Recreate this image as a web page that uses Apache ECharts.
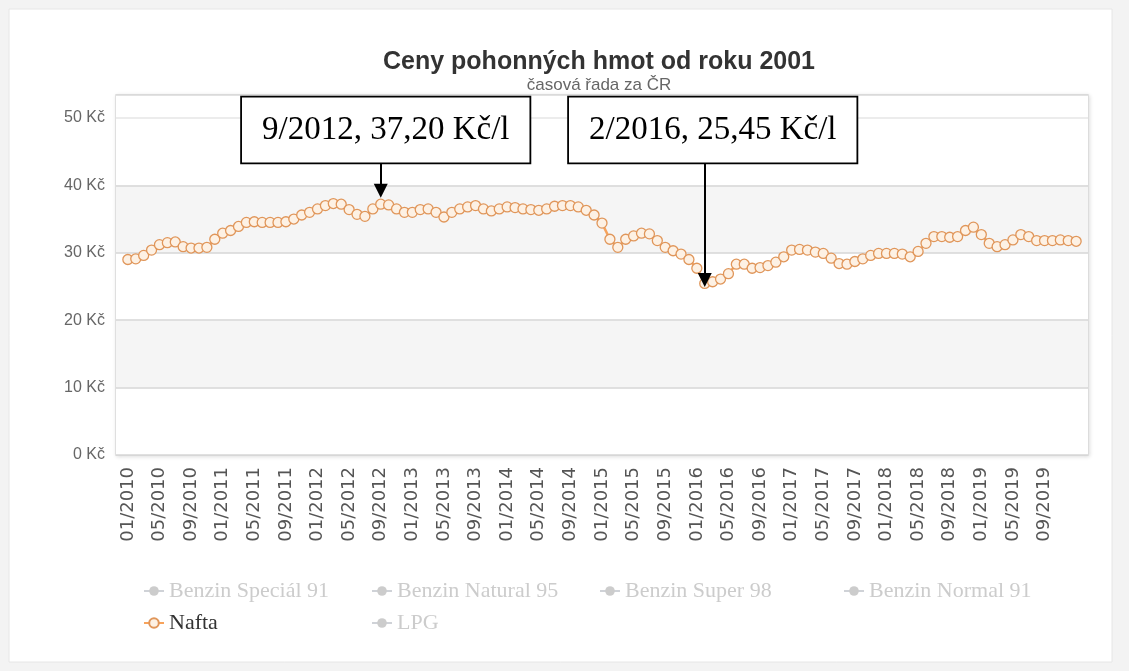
<!DOCTYPE html>
<html>
<head>
<meta charset="utf-8">
<script src="https://cdn.jsdelivr.net/npm/echarts@6/dist/echarts.min.js"></script>
<style>
html,body{margin:0;padding:0;background:#f3f3f3;}
#chart{width:1129px;height:671px;}
</style>
</head>
<body>
<div id="chart"></div>
<script>
// ---- data ----
const categories = [
'01/2010','02/2010','03/2010','04/2010','05/2010','06/2010','07/2010','08/2010','09/2010','10/2010','11/2010','12/2010',
'01/2011','02/2011','03/2011','04/2011','05/2011','06/2011','07/2011','08/2011','09/2011','10/2011','11/2011','12/2011',
'01/2012','02/2012','03/2012','04/2012','05/2012','06/2012','07/2012','08/2012','09/2012','10/2012','11/2012','12/2012',
'01/2013','02/2013','03/2013','04/2013','05/2013','06/2013','07/2013','08/2013','09/2013','10/2013','11/2013','12/2013',
'01/2014','02/2014','03/2014','04/2014','05/2014','06/2014','07/2014','08/2014','09/2014','10/2014','11/2014','12/2014',
'01/2015','02/2015','03/2015','04/2015','05/2015','06/2015','07/2015','08/2015','09/2015','10/2015','11/2015','12/2015',
'01/2016','02/2016','03/2016','04/2016','05/2016','06/2016','07/2016','08/2016','09/2016','10/2016','11/2016','12/2016',
'01/2017','02/2017','03/2017','04/2017','05/2017','06/2017','07/2017','08/2017','09/2017','10/2017','11/2017','12/2017',
'01/2018','02/2018','03/2018','04/2018','05/2018','06/2018','07/2018','08/2018','09/2018','10/2018','11/2018','12/2018',
'01/2019','02/2019','03/2019','04/2019','05/2019','06/2019','07/2019','08/2019','09/2019','10/2019','11/2019','12/2019',
'01/2020'
];

const naftaValues = [
29.0,29.1,29.6,30.4,31.2,31.5,31.6,30.9,30.7,30.7,30.8,32.0,
32.9,33.3,33.9,34.5,34.6,34.5,34.5,34.5,34.6,35.0,35.6,36.0,
36.5,37.0,37.3,37.2,36.4,35.7,35.4,36.5,37.2,37.1,36.5,36.0,
36.0,36.4,36.5,36.0,35.3,36.0,36.5,36.8,37.0,36.5,36.2,36.5,
36.8,36.7,36.5,36.4,36.3,36.5,36.9,37.0,37.0,36.8,36.3,35.6,
34.4,32.0,30.8,32.0,32.5,32.9,32.8,31.8,30.8,30.3,29.8,29.0,
27.7,25.45,25.7,26.1,26.9,28.3,28.3,27.7,27.8,28.1,28.6,29.4,
30.4,30.5,30.4,30.1,29.9,29.2,28.4,28.3,28.7,29.1,29.6,29.9,
29.9,29.9,29.8,29.4,30.2,31.4,32.4,32.4,32.3,32.4,33.3,33.8,
32.7,31.4,30.9,31.2,31.9,32.7,32.4,31.8,31.8,31.8,31.9,31.8,
31.7
];

const seriesNames = ['Benzin Speciál 91','Benzin Natural 95','Benzin Super 98','Benzin Normal 91','Nafta','LPG'];
const hiddenSeries = ['Benzin Speciál 91','Benzin Natural 95','Benzin Super 98','Benzin Normal 91','LPG'];

const titleText = 'Ceny pohonných hmot od roku 2001';
const subtitleText = 'časová řada za ČR';
const yUnit = ' Kč';

const annotationCats = ['09/2012','02/2016'];
const annotationValues = [37.20, 25.45];
const annotationTexts = ['9/2012, 37,20 Kč/l','2/2016, 25,45 Kč/l'];

// ---- layout (not data) ----
const boxCenterValue = 48.2;
const arrowStartValue = 43.2;
const arrowTipGap = [2.0, 0.5];
const boxOffsets = [[5,0],[8,0]];
const legendLefts = [138, 366, 594, 838, 138, 366];
const legendTops = [575, 575, 575, 575, 607, 607];

// category axis padded with one empty slot each side
const axisCats = [''].concat(categories).concat(['']);
const naftaData = ['-'].concat(naftaValues).concat(['-']);
const lastLabelIdx = categories.indexOf('09/2019') + 1;

const chart = echarts.init(document.getElementById('chart'), null, {renderer:'canvas'});

const series = seriesNames.map(function(name){
  if (name === 'Nafta') {
    return {
      name: name, type:'line', data: naftaData,
      color:'#f7a35c',
      symbol:'circle', symbolSize:10, showSymbol:true, showAllSymbol:true,
      lineStyle:{color:'#f7a35c', width:2.5},
      itemStyle:{color:'#fdf1e4', borderColor:'#e0965a', borderWidth:1.3},
      emphasis:{disabled:true},
      animation:false,
      z:3,
      markPoint:{
        silent:true, animation:false,
        symbol:'rect', symbolSize:1,
        itemStyle:{color:'rgba(0,0,0,0)'},
        label:{show:true, position:'inside', color:'#000', fontFamily:'Liberation Serif', fontSize:33,
               lineHeight:35, backgroundColor:'#ffffff', borderColor:'#000000', borderWidth:1.8, padding:[15,20,15,20]},
        data: annotationCats.map(function(c,i){
          return {coord:[c, boxCenterValue], label:{formatter:annotationTexts[i], offset:boxOffsets[i]}};
        })
      },
      markLine:{
        silent:true, animation:false,
        symbol:['none','triangle'], symbolSize:14,
        lineStyle:{color:'#000', width:2, type:'solid'},
        label:{show:false},
        emphasis:{disabled:true},
        data: annotationCats.map(function(c,i){
          return [{coord:[c, arrowStartValue]},{coord:[c, annotationValues[i] + arrowTipGap[i]]}];
        })
      }
    };
  }
  return {name:name, type:'line', data:[], symbol:'circle', symbolSize:8, color:'#7cb5ec'};
});

const legends = seriesNames.map(function(name,i){
  const sel = {};
  hiddenSeries.forEach(function(h){ sel[h] = false; });
  return {
    data:[name], left:legendLefts[i], top:legendTops[i],
    itemWidth:20, itemHeight:12, itemGap:0,
    selected: sel, selectedMode:false,
    inactiveColor:'#cccccc', inactiveBorderColor:'#cccccc',
    textStyle:{fontFamily:'Liberation Serif', fontSize:22, color:'#333333'}
  };
});

const option = {
  backgroundColor:'#f3f3f3',
  animation:false,
  graphic:[{type:'rect', z:-1, shape:{x:9, y:9, width:1103, height:653}, style:{fill:'#ffffff', stroke:'#e6e6e6', lineWidth:1}}],
  title:{
    text:titleText, subtext:subtitleText,
    left:594, top:45, textAlign:'center', itemGap:2,
    textStyle:{fontFamily:'Liberation Sans', fontSize:25, fontWeight:'bold', color:'#333333'},
    subtextStyle:{fontFamily:'Liberation Sans', fontSize:17, color:'#666666'}
  },
  legend: legends,
  grid:{left:116, right:41, top:95, bottom:216, show:true, backgroundColor:'#ffffff',
        borderColor:'#d9d9d9', borderWidth:1.5, shadowBlur:4, shadowColor:'rgba(0,0,0,0.12)', shadowOffsetX:1, shadowOffsetY:1},
  xAxis:{
    type:'category', data:axisCats, boundaryGap:true,
    axisLine:{show:false}, axisTick:{show:false},
    axisLabel:{
      rotate:90, margin:12, color:'#555555', fontFamily:'DejaVu Sans', fontSize:18,
      interval:function(idx){ return idx >= 1 && idx <= lastLabelIdx && (idx-1) % 4 === 0; }
    },
    splitLine:{show:false}
  },
  yAxis:{
    type:'value', min:0, max:53.4, interval:10,
    axisLine:{show:false}, axisTick:{show:false},
    axisLabel:{color:'#666666', fontFamily:'Liberation Sans', fontSize:16, margin:11, showMaxLabel:false,
      formatter:function(v){ return (v % 10 === 0) ? (v + yUnit) : ''; }},
    splitLine:{show:true, lineStyle:{color:['#d6d6d6','#d6d6d6','#d6d6d6','#d6d6d6','#d6d6d6','#e6e6e6','#d9d9d9'], width:1.5}},
    splitArea:{show:true, areaStyle:{color:['#ffffff','#f5f5f5','#ffffff','#f5f5f5','#ffffff','#ffffff']}}
  },
  series: series
};
chart.setOption(option);
</script>
</body>
</html>
